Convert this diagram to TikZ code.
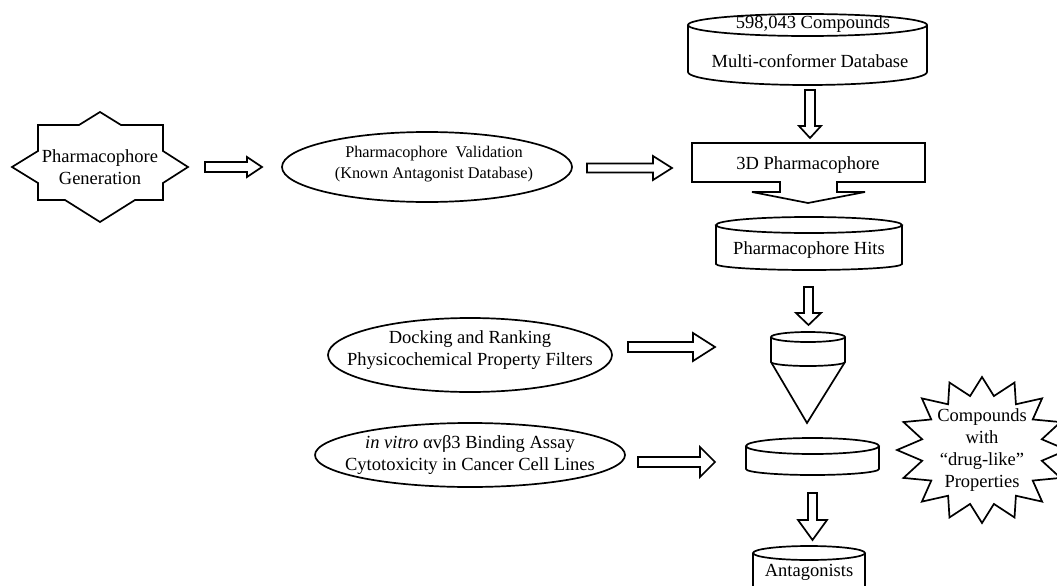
\documentclass[tikz,border=0pt]{standalone}
\usepackage{fontspec}
\setmainfont{Liberation Serif}
\usetikzlibrary{shapes.geometric,calc}
% horizontal block arrow: tail, tip, shaft half, head half, head length
\newcommand{\hblk}[5]{\draw[barrow] let \p1=(#1), \p2=(#2) in
  (\x1,\y1+#3) -- (\x2-#5,\y1+#3) -- (\x2-#5,\y1+#4) -- (\x2,\y1) --
  (\x2-#5,\y1-#4) -- (\x2-#5,\y1-#3) -- (\x1,\y1-#3) -- cycle;}
% vertical (downward) block arrow
\newcommand{\vblk}[5]{\draw[barrow] let \p1=(#1), \p2=(#2) in
  (\x1-#3,\y1) -- (\x1-#3,\y2+#5) -- (\x1-#4,\y2+#5) -- (\x1,\y2) --
  (\x1+#4,\y2+#5) -- (\x1+#3,\y2+#5) -- (\x1+#3,\y1) -- cycle;}
\begin{document}
\begin{tikzpicture}[x=1pt,y=1pt,
  lw/.style={line width=1.7pt},
  txt/.style={font=\fontsize{18.5}{22}\selectfont, align=center, inner sep=0pt},
  stxt/.style={font=\fontsize{16.3}{21}\selectfont, align=center, inner sep=0pt},
  oval/.style={ellipse, draw, line width=1.7pt, inner sep=0pt},
  barrow/.style={draw, line width=1.7pt, line join=miter, fill=white}]
\useasboundingbox (0,0) rectangle (1057,-586);
\clip (0,0) rectangle (1057,-586);

% Pharmacophore Generation (8-point star)
\draw[lw, line join=miter] (100,-112) -- (121,-125) -- (163,-125) -- (163,-151) -- (188,-167) -- (163,-183)
  -- (163,-200) -- (135,-200) -- (100,-222) -- (65,-200) -- (38,-200) -- (38,-183)
  -- (12,-167) -- (38,-151) -- (38,-125) -- (79,-125) -- cycle;
\node[txt] (gen) at (100,-167) {Pharmacophore\\Generation};

% Validation ellipse
\node[oval, minimum width=290, minimum height=70] (val) at (427,-167) {};
\node[stxt] (valt) at (434,-164) {Pharmacophore\ \ Validation\\(Known Antagonist Database)};

% Database cylinder
\draw[lw] (807.5,-25) ellipse [x radius=119.5, y radius=11];
\draw[lw] (688,-25) -- (688,-72) arc [start angle=180, end angle=360, x radius=119.5, y radius=13] -- (927,-25);
\node[txt] (dbtop) at (813,-24) {598,043 Compounds};
\node[txt] (db) at (810,-61) {Multi-conformer Database};

% 3D Pharmacophore box with attached wide arrow
\draw[lw, line join=miter] (780,-182) -- (692,-182) -- (692,-143) -- (925,-143) -- (925,-182) -- (837,-182)
  -- (837,-192) -- (865,-192) -- (808,-203) -- (752,-192) -- (780,-192) -- cycle;
\node[txt] (ph3d) at (808,-165) {3D Pharmacophore};

% Pharmacophore Hits cylinder
\draw[lw] (809,-225) ellipse [x radius=93, y radius=8];
\draw[lw] (716,-225) -- (716,-264) arc [start angle=180, end angle=360, x radius=93, y radius=6] -- (902,-225);
\node[txt] (hits) at (809,-250) {Pharmacophore Hits};

% Funnel
\draw[lw] (808,-337) ellipse [x radius=37, y radius=5];
\draw[lw] (771,-337) -- (771,-362) arc [start angle=180, end angle=360, x radius=37, y radius=4] -- (845,-337);
\draw[lw, line join=miter] (771,-362) -- (807,-423) -- (845,-362);
\coordinate (funnel) at (808,-380);

% Docking ellipse
\node[oval, minimum width=284, minimum height=74] (dock) at (470,-355) {};
\node[txt] (dockt) at (470,-350) {Docking and Ranking\\Physicochemical Property Filters};

% In vitro ellipse
\node[oval, minimum width=310, minimum height=64] (vitro) at (470,-455) {};
\node[txt] (vitrot) at (470,-455) {\textit{in vitro} αvβ3 Binding Assay\\Cytotoxicity in Cancer Cell Lines};

% Pool cylinder
\draw[lw] (812.5,-446) ellipse [x radius=66.5, y radius=8];
\draw[lw] (746,-446) -- (746,-469) arc [start angle=180, end angle=360, x radius=66.5, y radius=6] -- (879,-446);
\coordinate (pool) at (812.5,-458);

% Antagonists cylinder
\draw[lw] (809,-553) ellipse [x radius=56, y radius=7];
\draw[lw] (753,-553) -- (753,-600) (865,-553) -- (865,-600);
\node[txt] (ant) at (809,-572) {Antagonists};

% Starburst
\draw[lw, line join=miter, shift={(982,-450)}] (90:85 and 73)
  \foreach \i in {1,...,31}{ -- ({90+11.25*\i}:{73+12*cos(180*\i)} and {64+9*cos(180*\i)}) } -- cycle;
\node[txt] (drug) at (982,-450) {Compounds\\with\\“drug-like”\\Properties};

% Block arrows
\coordinate (a1s) at (205,-167); \coordinate (a1e) at (262,-167);
\hblk{a1s}{a1e}{5}{10}{15}
\coordinate (a2s) at (587,-168); \coordinate (a2e) at (672,-168);
\hblk{a2s}{a2e}{4.5}{12}{19}
\coordinate (a3s) at (810,-90); \coordinate (a3e) at (810,-138);
\vblk{a3s}{a3e}{5}{11}{12}
\coordinate (a4s) at (808.5,-287); \coordinate (a4e) at (808.5,-325);
\vblk{a4s}{a4e}{4.5}{12.5}{12}
\coordinate (a5s) at (628,-347); \coordinate (a5e) at (715,-347);
\hblk{a5s}{a5e}{5}{14}{22}
\coordinate (a6s) at (638,-462); \coordinate (a6e) at (715,-462);
\hblk{a6s}{a6e}{5}{15}{15}
\coordinate (a7s) at (812.5,-493); \coordinate (a7e) at (812.5,-540);
\vblk{a7s}{a7e}{4.5}{14.5}{20}
\end{tikzpicture}
\end{document}
